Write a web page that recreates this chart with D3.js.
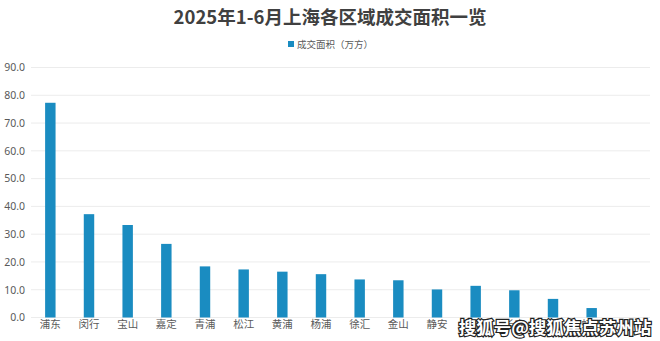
<!DOCTYPE html>
<html>
<head>
<meta charset="utf-8">
<script src="https://cdn.jsdelivr.net/npm/d3@7"></script>
<style>
  body { margin: 0; background: #fff; }
  svg { display: block; font-family: "Noto Sans CJK SC", "Noto Sans", sans-serif; }
</style>
</head>
<body>
<script>
// 2025年1-6月上海各区域成交面积（万方）
var districts = ["浦东", "闵行", "宝山", "嘉定", "青浦", "松江", "黄浦", "杨浦", "徐汇", "金山", "静安", "普陀", "长宁", "奉贤", "虹口"];
var areaValues = [77.3, 37.2, 33.3, 26.5, 18.4, 17.3, 16.5, 15.6, 13.7, 13.4, 10.1, 11.4, 9.8, 6.7, 3.4];
var yTicks = [0, 10, 20, 30, 40, 50, 60, 70, 80, 90];

var width = 660, height = 341;

var svg = d3.select("body").append("svg")
    .attr("width", width)
    .attr("height", height);

var x = d3.scaleBand()
    .domain(districts)
    .range([31, 611])
    .paddingInner(0.73)
    .paddingOuter(0.365);

var y = d3.scaleLinear()
    .domain([0, 90])
    .range([317.5, 67.5]);

// title
svg.append("text")
    .attr("x", 330)
    .attr("y", 24)
    .attr("text-anchor", "middle")
    .attr("font-size", 18.5)
    .attr("font-weight", "bold")
    .attr("fill", "#404040")
    .text("2025年1-6月上海各区域成交面积一览");

// legend
svg.append("rect")
    .attr("x", 288).attr("y", 41)
    .attr("width", 6).attr("height", 6)
    .attr("fill", "#1a8cc1");
svg.append("text")
    .attr("x", 297).attr("y", 47.5)
    .attr("font-size", 9.5)
    .attr("fill", "#595959")
    .text("成交面积（万方）");

// grid
svg.append("g")
    .selectAll("line")
    .data(yTicks)
    .enter()
    .append("line")
    .attr("x1", 31).attr("x2", 650)
    .attr("y1", function(d) { return y(d); })
    .attr("y2", function(d) { return y(d); })
    .attr("stroke", "#ececec")
    .attr("stroke-width", 1);

// y axis labels
var yAxis = d3.axisLeft(y)
    .tickValues(yTicks)
    .tickSize(0)
    .tickPadding(0)
    .tickFormat(d3.format(".1f"));

svg.append("g")
    .attr("transform", "translate(25,0)")
    .call(yAxis)
    .call(function(g) {
        g.select(".domain").remove();
        g.selectAll("text")
            .attr("font-size", 10.5)
            .attr("fill", "#595959")
            .attr("font-family", "'Noto Sans', sans-serif");
    });

// bars
svg.append("g")
    .selectAll("rect")
    .data(areaValues)
    .enter()
    .append("rect")
    .attr("x", function(d, i) { return x(districts[i]); })
    .attr("y", function(d) { return y(d); })
    .attr("width", x.bandwidth())
    .attr("height", function(d) { return y(0) - y(d); })
    .attr("fill", "#1a8cc1");

// x axis labels
var xAxis = d3.axisBottom(x).tickSize(0).tickPadding(0);
svg.append("g")
    .attr("transform", "translate(0,320)")
    .call(xAxis)
    .call(function(g) {
        g.select(".domain").remove();
        g.selectAll("text")
            .attr("dy", "0.8em")
            .attr("font-size", 10.5)
            .attr("fill", "#595959")
            .attr("font-family", "'Noto Sans CJK SC', sans-serif");
    });

// watermark (covers the last labels, as in the picture)
svg.append("text")
    .attr("x", 555)
    .attr("y", 334)
    .attr("text-anchor", "middle")
    .attr("font-size", 17.5)
    .attr("font-weight", "bold")
    .attr("fill", "#fff")
    .attr("stroke", "#222")
    .attr("stroke-width", 2.4)
    .attr("paint-order", "stroke")
    .text("搜狐号@搜狐焦点苏州站");
</script>
</body>
</html>
